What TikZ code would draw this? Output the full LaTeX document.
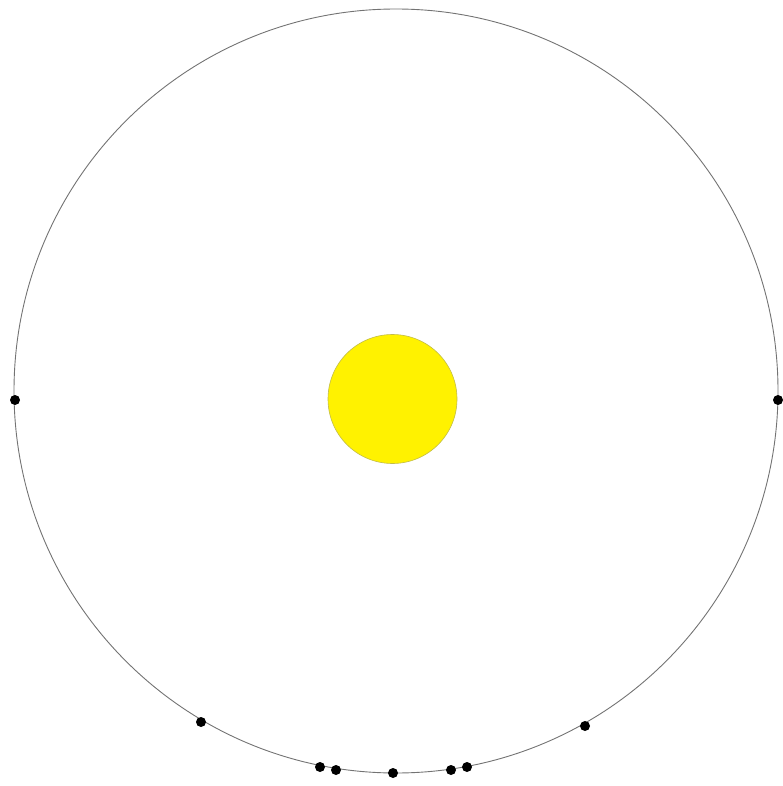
\documentclass[tikz,border=0pt]{standalone}
\begin{document}
\begin{tikzpicture}[x=1pt,y=-1pt,
  orbit/.style={draw=black!55,line width=0.9pt},
  sun/.style={circle,fill=yellow,draw=yellow!70!black!90,line width=0.6pt,minimum size=129pt,inner sep=0pt},
  planet/.style={circle,fill=black,minimum size=10pt,inner sep=0pt}]
\useasboundingbox (0,0) rectangle (782,786);
\coordinate (c) at (396,391);
\draw[orbit] (c) circle[radius=382];
\node[sun] (s) at (392.5,399) {};
\node[planet] (p1) at (15,400) {};
\node[planet] (p2) at (778,400) {};
\node[planet] (p3) at (201,722) {};
\node[planet] (p4) at (320,767) {};
\node[planet] (p5) at (336,770) {};
\node[planet] (p6) at (393,773) {};
\node[planet] (p7) at (451,770) {};
\node[planet] (p8) at (467,767) {};
\node[planet] (p9) at (585,726) {};
\end{tikzpicture}
\end{document}
